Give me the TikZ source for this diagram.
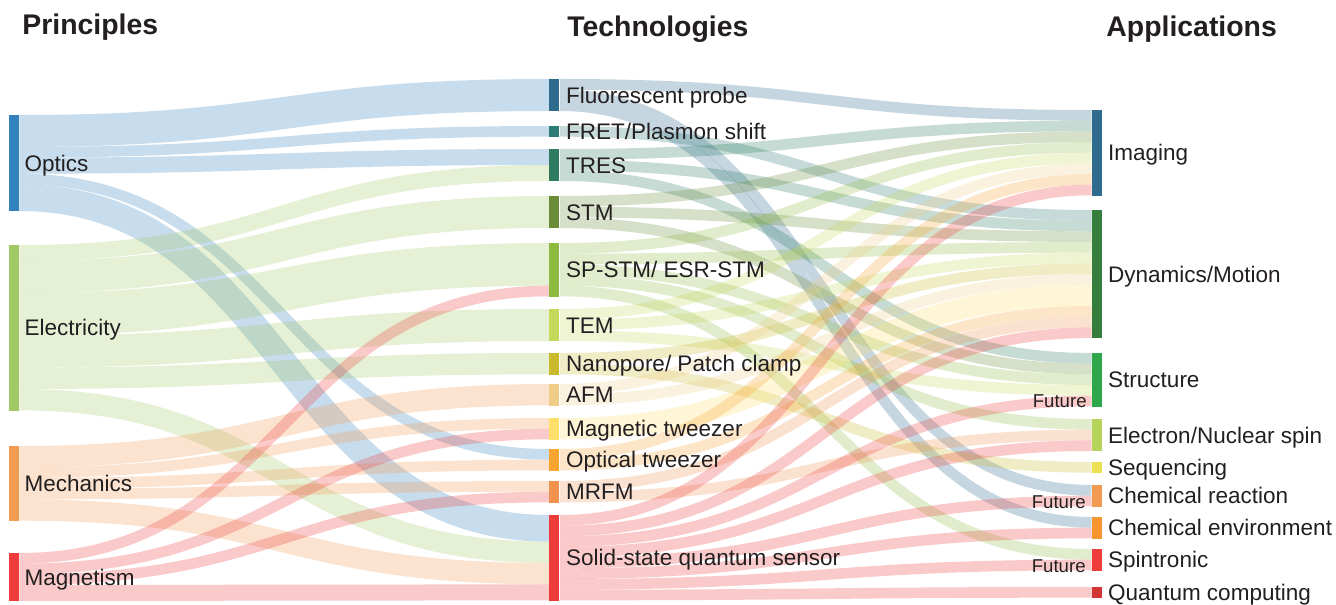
\documentclass[tikz,border=0pt]{standalone}
\usepackage{fontspec}
\setmainfont{Liberation Sans}
\usetikzlibrary{calc,positioning}

\definecolor{txt}{HTML}{231F20}
\definecolor{cOpt}{HTML}{3182BD}
\definecolor{cEle}{HTML}{A1CA67}
\definecolor{cMec}{HTML}{F39A53}
\definecolor{cMag}{HTML}{EE3B3B}
\definecolor{cFP}{HTML}{2F6B8F}
\definecolor{cFRET}{HTML}{2E7C76}
\definecolor{cTRES}{HTML}{2E7B5F}
\definecolor{cSTM}{HTML}{6A8C37}
\definecolor{cSPSTM}{HTML}{8DBB3F}
\definecolor{cTEM}{HTML}{C5D95A}
\definecolor{cNano}{HTML}{CBB92E}
\definecolor{cAFM}{HTML}{F0CD86}
\definecolor{cMagTw}{HTML}{FDDF6A}
\definecolor{cOptTw}{HTML}{F8A431}
\definecolor{cMRFM}{HTML}{F1924F}
\definecolor{cSSQS}{HTML}{EE3B3B}
\definecolor{cImg}{HTML}{2F6B8F}
\definecolor{cDyn}{HTML}{357E3B}
\definecolor{cStr}{HTML}{2EA64A}
\definecolor{cENs}{HTML}{B6D35A}
\definecolor{cSeq}{HTML}{EBE152}
\definecolor{cChR}{HTML}{F19A52}
\definecolor{cChE}{HTML}{F7962F}
\definecolor{cSpin}{HTML}{EE3B3B}
\definecolor{cQC}{HTML}{D33434}

\pgfdeclarelayer{bg}
\pgfsetlayers{bg,main}

\tikzset{
  bar/.style={rectangle, draw=none, inner sep=0pt, minimum width=5pt, anchor=north west},
  lab/.style={inner sep=0pt, anchor=base west, yshift=-3.95pt, text=txt, font=\fontsize{11.25}{13}\selectfont},
  head/.style={inner sep=0pt, anchor=base west, text=txt, font=\fontsize{14.2}{17}\selectfont\bfseries},
  fut/.style={inner sep=0pt, anchor=east, text=txt, font=\fontsize{9.3}{11}\selectfont},
  band/.style={line width=#1*5.333pt, opacity=0.27}
}

% band: source, offset at source, target, offset at target, width, colour (offsets and width in units)
\newcommand{\flowband}[6]{%
  \draw[band=#5, draw=#6] ($(#1.north east)+(0,{(#2+#5/2)*10.667})$)
    .. controls +(265,0) and +(-265,0) .. ($(#3.north west)+(0,{(#4+#5/2)*10.667})$);
}

\begin{document}
\begin{tikzpicture}[x=0.5pt, y=-0.5pt]
  \useasboundingbox (0,0) rectangle (1336,604);

  % column titles
  \node[head] (hPrin) at (22,35) {Principles};
  \node[head] (hTech) at (567,37) {Technologies};
  \node[head] (hAppl) at (1106,37) {Applications};

  % principles
  \node[bar, fill=cOpt, minimum height=9*5.333pt] (opt) at (8.5,115) {};
  \node[bar, fill=cEle, minimum height=15.5*5.333pt] (ele) at (8.5,245) {};
  \node[bar, fill=cMec, minimum height=7*5.333pt] (mec) at (8.5,446) {};
  \node[bar, fill=cMag, minimum height=4.5*5.333pt] (mag) at (8.5,553) {};
  \node[right=2.5pt of opt, lab] (optL) {Optics};
  \node[right=2.5pt of ele, lab] (eleL) {Electricity};
  \node[right=2.5pt of mec, lab] (mecL) {Mechanics};
  \node[right=2.5pt of mag, lab] (magL) {Magnetism};

  % technologies
  \node[bar, fill=cFP, minimum height=3*5.333pt] (fp) at (549,79) {};
  \node[bar, fill=cFRET, minimum height=1*5.333pt] (fret) at (549,126) {};
  \node[bar, fill=cTRES, minimum height=3*5.333pt] (tres) at (549,149) {};
  \node[bar, fill=cSTM, minimum height=3*5.333pt] (stm) at (549,196) {};
  \node[bar, fill=cSPSTM, minimum height=5*5.333pt] (spstm) at (549,243) {};
  \node[bar, fill=cTEM, minimum height=3*5.333pt] (tem) at (549,309) {};
  \node[bar, fill=cNano, minimum height=2*5.333pt] (nano) at (549,353) {};
  \node[bar, fill=cAFM, minimum height=2*5.333pt] (afm) at (549,384) {};
  \node[bar, fill=cMagTw, minimum height=2*5.333pt] (magtw) at (549,418) {};
  \node[bar, fill=cOptTw, minimum height=2*5.333pt] (opttw) at (549,449) {};
  \node[bar, fill=cMRFM, minimum height=2*5.333pt] (mrfm) at (549,481) {};
  \node[bar, fill=cSSQS, minimum height=8*5.333pt] (ssqs) at (549,515) {};
  \node[right=3pt of fp, lab] (fpL) {Fluorescent probe};
  \node[right=3pt of fret, lab] (fretL) {FRET/Plasmon shift};
  \node[right=3pt of tres, lab] (tresL) {TRES};
  \node[right=3pt of stm, lab] (stmL) {STM};
  \node[right=3pt of spstm, lab] (spstmL) {SP-STM/ ESR-STM};
  \node[right=3pt of tem, lab] (temL) {TEM};
  \node[right=3pt of nano, lab] (nanoL) {Nanopore/ Patch clamp};
  \node[right=3pt of afm, lab] (afmL) {AFM};
  \node[right=3pt of magtw, lab] (magtwL) {Magnetic tweezer};
  \node[right=3pt of opttw, lab] (opttwL) {Optical tweezer};
  \node[right=3pt of mrfm, lab] (mrfmL) {MRFM};
  \node[right=3pt of ssqs, lab] (ssqsL) {Solid-state quantum sensor};

  % applications
  \node[bar, fill=cImg, minimum height=8*5.333pt] (img) at (1091.5,110) {};
  \node[bar, fill=cDyn, minimum height=12*5.333pt] (dyn) at (1091.5,210) {};
  \node[bar, fill=cStr, minimum height=5*5.333pt] (str) at (1091.5,353) {};
  \node[bar, fill=cENs, minimum height=3*5.333pt] (ens) at (1091.5,419) {};
  \node[bar, fill=cSeq, minimum height=1*5.333pt] (seq) at (1091.5,462) {};
  \node[bar, fill=cChR, minimum height=2*5.333pt] (chr) at (1091.5,485) {};
  \node[bar, fill=cChE, minimum height=2*5.333pt] (che) at (1091.5,517) {};
  \node[bar, fill=cSpin, minimum height=2*5.333pt] (spin) at (1091.5,549) {};
  \node[bar, fill=cQC, minimum height=1*5.333pt] (qc) at (1091.5,587) {};
  \node[right=2.75pt of img, lab] (imgL) {Imaging};
  \node[right=2.75pt of dyn, lab] (dynL) {Dynamics/Motion};
  \node[right=2.75pt of str, lab] (strL) {Structure};
  \node[right=2.75pt of ens, lab] (ensL) {Electron/Nuclear spin};
  \node[right=2.75pt of seq, lab] (seqL) {Sequencing};
  \node[right=2.75pt of chr, lab] (chrL) {Chemical reaction};
  \node[right=2.75pt of che, lab] (cheL) {Chemical environment};
  \node[right=2.75pt of spin, lab] (spinL) {Spintronic};
  \node[right=2.75pt of qc, lab] (qcL) {Quantum computing};

  \node[fut] (futStr) at (1087,401) {Future};
  \node[fut] (futChR) at (1086,502) {Future};
  \node[fut] (futSpin) at (1086,566) {Future};

  \begin{pgfonlayer}{bg}
    \fill[white] (0,0) rectangle (1336,604);
    % principles -> technologies
    \flowband{opt}{0}{fp}{0}{3}{cOpt}
    \flowband{opt}{3}{fret}{0}{1}{cOpt}
    \flowband{opt}{4}{tres}{0}{1.5}{cOpt}
    \flowband{opt}{5.5}{opttw}{0}{1}{cOpt}
    \flowband{opt}{6.5}{ssqs}{0}{2.5}{cOpt}
    \flowband{ele}{0}{tres}{1.5}{1.5}{cEle}
    \flowband{ele}{1.5}{stm}{0}{3}{cEle}
    \flowband{ele}{4.5}{spstm}{0}{4}{cEle}
    \flowband{ele}{8.5}{tem}{0}{3}{cEle}
    \flowband{ele}{11.5}{nano}{0}{2}{cEle}
    \flowband{ele}{13.5}{ssqs}{2.5}{2}{cEle}
    \flowband{mec}{0}{afm}{0}{2}{cMec}
    \flowband{mec}{2}{magtw}{0}{1}{cMec}
    \flowband{mec}{3}{opttw}{1}{1}{cMec}
    \flowband{mec}{4}{mrfm}{0}{1}{cMec}
    \flowband{mec}{5}{ssqs}{4.5}{2}{cMec}
    \flowband{mag}{0}{spstm}{4}{1}{cMag}
    \flowband{mag}{1}{magtw}{1}{1}{cMag}
    \flowband{mag}{2}{mrfm}{1}{1}{cMag}
    \flowband{mag}{3}{ssqs}{6.5}{1.5}{cMag}

    % technologies -> applications
    \flowband{fp}{0}{img}{0}{1}{cFP}
    \flowband{fp}{1}{chr}{0}{1}{cFP}
    \flowband{fp}{2}{che}{0}{1}{cFP}
    \flowband{fret}{0}{dyn}{0}{1}{cFRET}
    \flowband{tres}{0}{img}{1}{1}{cTRES}
    \flowband{tres}{1}{dyn}{1}{1}{cTRES}
    \flowband{tres}{2}{str}{0}{1}{cTRES}
    \flowband{stm}{0}{img}{2}{1}{cSTM}
    \flowband{stm}{1}{dyn}{2}{1}{cSTM}
    \flowband{stm}{2}{str}{1}{1}{cSTM}
    \flowband{spstm}{0}{img}{3}{1}{cSPSTM}
    \flowband{spstm}{1}{dyn}{3}{1}{cSPSTM}
    \flowband{spstm}{2}{str}{2}{1}{cSPSTM}
    \flowband{spstm}{3}{ens}{0}{1}{cSPSTM}
    \flowband{spstm}{4}{spin}{0}{1}{cSPSTM}
    \flowband{tem}{0}{img}{4}{1}{cTEM}
    \flowband{tem}{1}{dyn}{4}{1}{cTEM}
    \flowband{tem}{2}{str}{3}{1}{cTEM}
    \flowband{nano}{0}{dyn}{5}{1}{cNano}
    \flowband{nano}{1}{seq}{0}{1}{cNano}
    \flowband{afm}{0}{img}{5}{1}{cAFM}
    \flowband{afm}{1}{dyn}{6}{1}{cAFM}
    \flowband{magtw}{0}{dyn}{7}{2}{cMagTw}
    \flowband{opttw}{0}{img}{6}{1}{cOptTw}
    \flowband{opttw}{1}{dyn}{9}{1}{cOptTw}
    \flowband{mrfm}{0}{dyn}{10}{1}{cMRFM}
    \flowband{mrfm}{1}{ens}{1}{1}{cMRFM}
    \flowband{ssqs}{0}{img}{7}{1}{cSSQS}
    \flowband{ssqs}{1}{dyn}{11}{1}{cSSQS}
    \flowband{ssqs}{2}{str}{4}{1}{cSSQS}
    \flowband{ssqs}{3}{ens}{2}{1}{cSSQS}
    \flowband{ssqs}{4}{chr}{1}{1}{cSSQS}
    \flowband{ssqs}{5}{che}{1}{1}{cSSQS}
    \flowband{ssqs}{6}{spin}{1}{1}{cSSQS}
    \flowband{ssqs}{7}{qc}{0}{1}{cSSQS}
  \end{pgfonlayer}
\end{tikzpicture}
\end{document}
